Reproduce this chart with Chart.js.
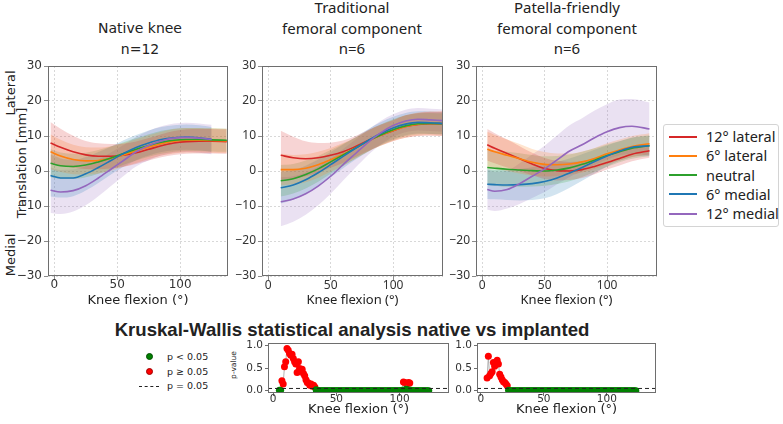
<!DOCTYPE html>
<html lang="en">
<head>
<meta charset="utf-8">
<title>Patellar translation vs knee flexion</title>
<script src="https://cdn.jsdelivr.net/npm/chart.js@4.4.1/dist/chart.umd.min.js"></script>
<style>
    body { margin: 0; background: #fff; }
    #figura { position: relative; width: 783px; height: 424px; overflow: hidden; font-family: 'DejaVu Sans', sans-serif; color: #222; }
    #figura canvas { position: absolute; }
    .titulo { position: absolute; transform: translateX(-50%); text-align: center; white-space: nowrap; line-height: 20.5px; }
    .rotulo-vertical { position: absolute; transform: translate(-50%, -50%) rotate(-90deg); white-space: nowrap; }
    #legenda { position: absolute; left: 663px; top: 124px; width: 116px; height: 103px; border: 1px solid #d4d4d4; border-radius: 3px; box-sizing: border-box; font-family: 'Noto Sans', sans-serif; font-size: 14.5px; }
    .item-legenda { position: absolute; left: 0; height: 19px; line-height: 19px; white-space: nowrap; }
    .item-legenda span.linha { position: absolute; left: 5px; top: 8.5px; width: 28px; height: 2px; }
    .item-legenda span.texto { position: absolute; left: 42px; top: 0; }
    .legenda-p { position: absolute; font-size: 9.5px; line-height: 12px; white-space: nowrap; }
    .ponto { position: absolute; width: 7px; height: 7px; border-radius: 50%; }
</style>
</head>
<body>
<div id="figura">
    <div class="titulo" style="left:140px; top:18px; font-size:14px;">Native knee<br>n=12</div>
    <div class="titulo" style="left:352px; top:-3px; font-family:'Noto Sans'; font-size:15px;">Traditional<br>femoral component<br>n=6</div>
    <div class="titulo" style="left:567px; top:-3px; font-family:'Noto Sans'; font-size:15px;">Patella-friendly<br>femoral component<br>n=6</div>

    <div class="rotulo-vertical" style="left:10px; top:93px; font-size:13px;">Lateral</div>
    <div class="rotulo-vertical" style="left:21px; top:163px; font-size:13px;">Translation [mm]</div>
    <div class="rotulo-vertical" style="left:10px; top:255px; font-size:13px;">Medial</div>

    <canvas id="chart-native" width="233" height="248" style="left:0px; top:60px;"></canvas>
    <canvas id="chart-traditional" width="234" height="248" style="left:214px; top:60px;"></canvas>
    <canvas id="chart-patella" width="234" height="248" style="left:428px; top:60px;"></canvas>

    <div id="legenda"></div>

    <div style="position:absolute; left:352px; top:330px; transform:translate(-50%,-50%); font-family:'Liberation Sans', sans-serif; font-weight:bold; font-size:18.6px; white-space:nowrap;">Kruskal-Wallis statistical analysis native vs implanted</div>

    <div class="ponto" style="left:146px; top:353px; background:#008000; border:0.5px solid #004d00; box-sizing:border-box;"></div>
    <div class="legenda-p" style="left:167px; top:351px;">p &lt; 0.05</div>
    <div class="ponto" style="left:146px; top:368px; background:#ff0000; border:0.5px solid #a00000; box-sizing:border-box;"></div>
    <div class="legenda-p" style="left:167px; top:366px;">p ≥ 0.05</div>
    <div style="position:absolute; left:139px; top:385.5px; width:20px; border-top:1px dashed #222;"></div>
    <div class="legenda-p" style="left:167px; top:380px;">p = 0.05</div>

    <div class="rotulo-vertical" style="left:233px; top:365px; font-size:7.5px;">p-value</div>

    <canvas id="chart-p-traditional" width="215" height="81" style="left:238px; top:336px;"></canvas>
    <canvas id="chart-p-patella" width="213" height="81" style="left:447px; top:336px;"></canvas>
</div>

<script>
// =====================================================
// DADOS DO GRÁFICO
// =====================================================

const seriesLabels = ['12° lateral', '6° lateral', 'neutral', '6° medial', '12° medial'];
const seriesColors = ['#d62728', '#ff7f0e', '#2ca02c', '#1f77b4', '#9467bd'];

const flexionTicks = [0, 50, 100];
const translationTicks = [-30, -20, -10, 0, 10, 20, 30];
const pValueTicks = [0, 0.5, 1];
const pThreshold = 0.05;

// Native knee (n=12)
const nativeAngles = [-3, 5, 15, 25, 35, 45, 55, 65, 75, 85, 95, 105, 115, 125, 137];
const nativeLat12 = [8.0, 6.8, 5.5, 4.6, 4.2, 4.2, 4.5, 5.2, 6.2, 7.2, 8.0, 8.4, 8.5, 8.5, 8.4];
const nativeLat12Sd = [6.0, 5.3, 4.6, 4.0, 3.7, 3.5, 3.3, 3.2, 3.2, 3.3, 3.4, 3.5, 3.5, 3.5, 3.5];
const nativeLat6 = [5.5, 4.3, 3.3, 2.9, 3.0, 3.6, 4.6, 5.7, 6.8, 7.8, 8.5, 8.8, 8.8, 8.7, 8.6];
const nativeLat6Sd = [5.0, 4.6, 4.2, 3.9, 3.7, 3.5, 3.4, 3.4, 3.4, 3.4, 3.5, 3.5, 3.5, 3.5, 3.5];
const nativeNeutral = [2.2, 1.5, 1.3, 1.7, 2.6, 3.7, 5.0, 6.2, 7.3, 8.2, 8.8, 9.0, 9.0, 8.9, 8.8];
const nativeNeutralSd = [4.0, 3.8, 3.6, 3.5, 3.4, 3.3, 3.2, 3.2, 3.2, 3.3, 3.3, 3.3, 3.3, 3.3, 3.3];
const nativeMed6 = [-1.3, -2.0, -2.0, -0.8, 1.0, 3.0, 5.0, 6.7, 8.0, 9.0, 9.5, 9.7, 9.5, 9.0];
const nativeMed6Sd = [6.0, 5.6, 5.2, 4.8, 4.4, 4.0, 3.8, 3.6, 3.6, 3.6, 3.6, 3.6, 3.6, 3.6];
const nativeMed12 = [-5.5, -6.0, -5.6, -4.2, -2.0, 0.5, 3.0, 5.5, 7.3, 8.6, 9.4, 9.6, 9.4, 9.0];
const nativeMed12Sd = [6.5, 6.3, 6.0, 5.6, 5.2, 4.8, 4.4, 4.2, 4.2, 4.2, 4.2, 4.2, 4.2, 4.2];

// Traditional femoral component (n=6)
const tradAngles = [10, 20, 30, 40, 50, 60, 70, 80, 90, 100, 110, 120, 130, 140];
const tradLat12 = [4.5, 3.8, 3.5, 3.8, 4.5, 5.5, 7.0, 8.7, 10.2, 11.5, 12.7, 13.3, 13.5, 13.5];
const tradLat12Sd = [7.0, 6.0, 5.0, 4.2, 3.6, 3.2, 3.0, 3.0, 3.0, 3.0, 3.2, 3.3, 3.4, 3.5];
const tradLat6 = [0.4, 0.4, 0.8, 1.8, 3.2, 4.8, 6.6, 8.5, 10.2, 11.6, 12.7, 13.4, 13.6, 13.6];
const tradLat6Sd = [4.5, 4.2, 4.0, 3.7, 3.4, 3.2, 3.0, 3.0, 3.0, 3.0, 3.2, 3.3, 3.4, 3.5];
const tradNeutral = [-2.8, -2.2, -1.0, 0.6, 2.6, 4.6, 6.6, 8.6, 10.3, 11.8, 12.9, 13.5, 13.6, 13.5];
const tradNeutralSd = [4.5, 4.2, 4.0, 3.7, 3.4, 3.2, 3.0, 3.0, 3.0, 3.0, 3.0, 3.0, 3.0, 3.0];
const tradMed6 = [-4.8, -4.0, -2.5, -0.5, 1.8, 4.2, 6.5, 8.7, 10.7, 12.3, 13.4, 13.9, 13.8, 13.6];
const tradMed6Sd = [4.5, 4.2, 4.0, 3.8, 3.6, 3.4, 3.2, 3.2, 3.2, 3.2, 3.2, 3.2, 3.2, 3.2];
const tradMed12 = [-8.8, -8.0, -6.5, -4.3, -1.5, 1.8, 5.0, 8.2, 10.9, 13.0, 14.3, 14.8, 14.6, 14.4];
const tradMed12Sd = [7.0, 6.5, 6.0, 5.5, 5.0, 4.5, 4.0, 3.6, 3.4, 3.2, 3.2, 3.2, 3.2, 3.2];

// Patella-friendly femoral component (n=6)
const pfAngles = [4, 10, 20, 30, 40, 50, 60, 70, 80, 90, 100, 110, 120, 134];
const pfLat12 = [7.5, 6.5, 5.0, 3.5, 2.0, 0.7, 0.1, 0.0, 0.4, 1.3, 2.4, 3.6, 4.8, 5.8];
const pfLat12Sd = [4.5, 4.3, 4.0, 3.6, 3.2, 3.0, 2.8, 2.6, 2.4, 2.2, 2.0, 2.0, 2.0, 2.0];
const pfLat6 = [6.2, 5.5, 4.5, 3.5, 2.5, 1.9, 1.8, 2.0, 2.6, 3.6, 4.9, 6.0, 7.0, 7.8];
const pfLat6Sd = [5.0, 4.8, 4.5, 4.2, 3.8, 3.5, 3.2, 3.0, 3.0, 3.0, 3.0, 3.0, 3.0, 3.0];
const pfNeutral = [1.0, 0.8, 0.5, 0.3, 0.1, 0.0, 0.3, 0.9, 1.9, 3.1, 4.4, 5.5, 6.5, 7.2];
const pfNeutralSd = [5.0, 5.0, 5.0, 4.8, 4.5, 4.2, 4.0, 3.8, 3.6, 3.4, 3.2, 3.0, 3.0, 3.0];
const pfMed6 = [-3.8, -3.9, -4.0, -3.9, -3.6, -3.0, -2.0, -0.6, 1.0, 2.7, 4.3, 5.7, 6.8, 7.2];
const pfMed6Sd = [4.2, 4.2, 4.3, 4.5, 4.7, 4.8, 4.6, 4.2, 3.8, 3.4, 3.0, 2.8, 2.8, 2.8];
const pfMed12 = [-5.3, -5.8, -5.3, -3.6, -1.5, 0.6, 3.2, 5.7, 7.5, 9.5, 11.2, 12.4, 12.8, 12.0];
const pfMed12Sd = [5.8, 5.6, 5.4, 5.8, 6.2, 6.6, 7.0, 7.4, 7.6, 7.8, 7.9, 8.0, 7.8, 7.6];

// Kruskal-Wallis p-values (native vs implanted)
const pAngles = [
    5, 6, 7, 8, 9, 10, 11, 12, 13, 14,
    15, 16, 17, 18, 19, 20, 21, 22, 23, 24,
    25, 26, 27, 28, 29, 30, 31, 32, 33, 34,
    35, 36, 37, 38, 39, 40, 41, 42, 43, 44,
    45, 46, 47, 48, 49, 50, 51, 52, 53, 54,
    55, 56, 57, 58, 59, 60, 61, 62, 63, 64,
    65, 66, 67, 68, 69, 70, 71, 72, 73, 74,
    75, 76, 77, 78, 79, 80, 81, 82, 83, 84,
    85, 86, 87, 88, 89, 90, 91, 92, 93, 94,
    95, 96, 97, 98, 99, 100, 101, 102, 103, 104,
    105, 106, 107, 108, 109, 110, 111, 112, 113, 114,
    115, 116, 117, 118, 119, 120, 121, 122, 123
];
const pNativeVsTrad = [
    0.01, 0.01, 0.22, 0.15, 0.53, 0.64, 0.93, 0.89, 0.82, 0.78,
    0.80, 0.71, 0.64, 0.59, 0.40, 0.64, 0.49, 0.46, 0.47, 0.38,
    0.33, 0.24, 0.18, 0.17, 0.12, 0.15, 0.10, 0.12, 0.08, 0.02,
    0.01, 0, 0, 0, 0, 0, 0, 0, 0, 0,
    0, 0, 0, 0, 0, 0, 0, 0, 0, 0,
    0, 0, 0, 0, 0, 0, 0, 0, 0, 0,
    0, 0, 0, 0, 0, 0, 0, 0, 0, 0,
    0, 0, 0, 0, 0, 0, 0, 0, 0, 0,
    0, 0, 0, 0, 0, 0, 0, 0, 0, 0,
    0, 0, 0, 0, 0, 0, 0, 0.01, 0.19, 0.18,
    0.03, 0.04, 0.18, 0.17, 0.01, 0, 0, 0, 0, 0,
    0, 0, 0, 0, 0, 0, 0, 0, 0
];
const pNativeVsPf = [
    0.28, 0.76, 0.33, 0.38, 0.42, 0.62, 0.54, 0.58, 0.67, 0.59,
    0.36, 0.30, 0.24, 0.20, 0.18, 0.15, 0.11, 0.01, 0, 0,
    0, 0, 0, 0, 0, 0, 0, 0, 0, 0,
    0, 0, 0, 0, 0, 0, 0, 0, 0, 0,
    0, 0, 0, 0, 0, 0, 0, 0, 0, 0,
    0, 0, 0, 0, 0, 0, 0, 0, 0, 0,
    0, 0, 0, 0, 0, 0, 0, 0, 0, 0,
    0, 0, 0, 0, 0, 0, 0, 0, 0, 0,
    0, 0, 0, 0, 0, 0, 0, 0, 0, 0,
    0, 0, 0, 0, 0, 0, 0, 0, 0, 0,
    0, 0, 0, 0, 0, 0, 0, 0, 0, 0,
    0, 0, 0, 0, 0, 0, 0, 0, 0
];

// =====================================================
// UTILITÁRIOS
// =====================================================

function paraRgba(hex, alfa) {
    const r = parseInt(hex.slice(1, 3), 16);
    const g = parseInt(hex.slice(3, 5), 16);
    const b = parseInt(hex.slice(5, 7), 16);
    return `rgba(${r}, ${g}, ${b}, ${alfa})`;
}

function formatarMenos(valor) {
    return String(valor).replace('-', '\u2212');
}

// Moldura em volta da área do gráfico (como os "spines" do matplotlib)
const molduraPlugin = {
    id: 'moldura',
    afterDraw(chart) {
        const { ctx, chartArea: a } = chart;
        ctx.save();
        ctx.strokeStyle = '#6e6e6e';
        ctx.lineWidth = 1;
        ctx.strokeRect(Math.round(a.left) + 0.5, Math.round(a.top) + 0.5,
            Math.round(a.right - a.left) - 1, Math.round(a.bottom - a.top) - 1);
        ctx.restore();
    }
};

function semPadding(scale) {
    scale.paddingTop = 0;
    scale.paddingBottom = 0;
    scale.paddingLeft = 0;
    scale.paddingRight = 0;
}

// =====================================================
// PAINÉIS DE TRANSLAÇÃO
// =====================================================

function criarPainelTranslacao(id, angulos, medias, desvios, xMin, xMax, fonte) {
    const ctx = document.getElementById(id);
    if (!ctx) return;

    const datasets = [];
    medias.forEach((media, i) => {
        const cor = seriesColors[i];
        const sd = desvios[i];
        datasets.push({
            data: media.map((v, k) => ({ x: angulos[k], y: v + sd[k] })),
            borderWidth: 0,
            borderColor: 'transparent',
            pointRadius: 0,
            fill: '+1',
            backgroundColor: paraRgba(cor, 0.2),
            cubicInterpolationMode: 'monotone',
            order: 10
        });
        datasets.push({
            data: media.map((v, k) => ({ x: angulos[k], y: v - sd[k] })),
            borderWidth: 0,
            borderColor: 'transparent',
            pointRadius: 0,
            fill: false,
            cubicInterpolationMode: 'monotone',
            order: 10
        });
        datasets.push({
            label: seriesLabels[i],
            data: media.map((v, k) => ({ x: angulos[k], y: v })),
            borderColor: cor,
            borderWidth: 1.6,
            pointRadius: 0,
            fill: false,
            cubicInterpolationMode: 'monotone',
            order: 5 - i
        });
    });

    const grade = { color: '#cfcfcf', lineWidth: 0.8, tickColor: '#6e6e6e', tickLength: 4 };
    const borda = { display: false, dash: [2, 2] };

    new Chart(ctx, {
        type: 'line',
        data: { datasets },
        options: {
            responsive: false,
            animation: false,
            devicePixelRatio: 1,
            layout: { padding: { top: 6, right: 5, left: 0, bottom: 0 } },
            plugins: {
                legend: { display: false },
                tooltip: { enabled: false },
                filler: { drawTime: 'beforeDatasetsDraw' }
            },
            scales: {
                x: {
                    type: 'linear',
                    min: xMin,
                    max: xMax,
                    afterBuildTicks: s => { s.ticks = flexionTicks.map(v => ({ value: v })); },
                    afterFit: s => { s.height = 32; semPadding(s); },
                    grid: grade,
                    border: borda,
                    ticks: { color: '#333', font: { family: fonte, size: 12 }, padding: -2, maxRotation: 0 },
                    title: { display: true, text: 'Knee flexion (°)', color: '#222', font: { family: fonte, size: 13 }, padding: 0 }
                },
                y: {
                    type: 'linear',
                    min: -30,
                    max: 30,
                    afterBuildTicks: s => { s.ticks = translationTicks.map(v => ({ value: v })); },
                    afterFit: s => { s.width = 48; semPadding(s); },
                    grid: grade,
                    border: borda,
                    ticks: { color: '#333', font: { family: fonte, size: 12 }, padding: 2, callback: v => formatarMenos(v) }
                }
            }
        },
        plugins: [molduraPlugin]
    });
}

// =====================================================
// PAINÉIS DE P-VALOR
// =====================================================

function criarPainelPValor(id, angulos, valores, xMin, xMax) {
    const ctx = document.getElementById(id);
    if (!ctx) return;

    const cores = valores.map(v => (v >= pThreshold ? '#ff0000' : '#008000'));
    const grade = { drawOnChartArea: false, tickColor: '#6e6e6e', tickLength: 3 };
    const borda = { display: false };

    new Chart(ctx, {
        type: 'line',
        data: {
            datasets: [
                {
                    data: [{ x: xMin, y: pThreshold }, { x: xMax, y: pThreshold }],
                    borderColor: '#222',
                    borderWidth: 1,
                    borderDash: [4, 3],
                    pointRadius: 0,
                    order: 0
                },
                {
                    data: valores.map((v, k) => ({ x: angulos[k], y: v })),
                    borderColor: '#a0a0a0',
                    borderWidth: 0.8,
                    pointRadius: 3.5,
                    pointBackgroundColor: cores,
                    pointBorderColor: cores,
                    pointBorderWidth: 0,
                    order: 1
                }
            ]
        },
        options: {
            responsive: false,
            animation: false,
            devicePixelRatio: 1,
            layout: { padding: { top: 7, right: 4, left: 0, bottom: 0 } },
            plugins: { legend: { display: false }, tooltip: { enabled: false } },
            scales: {
                x: {
                    type: 'linear',
                    min: xMin,
                    max: xMax,
                    afterBuildTicks: s => { s.ticks = flexionTicks.map(v => ({ value: v })); },
                    afterFit: s => { s.height = 24; semPadding(s); },
                    grid: grade,
                    border: borda,
                    ticks: { color: '#333', font: { family: 'DejaVu Sans', size: 10.5 }, padding: -3, maxRotation: 0 },
                    title: { display: true, text: 'Knee flexion (°)', color: '#222', font: { family: 'DejaVu Sans', size: 13 }, padding: 0 }
                },
                y: {
                    type: 'linear',
                    min: -0.05,
                    max: 1.05,
                    afterBuildTicks: s => { s.ticks = pValueTicks.map(v => ({ value: v })); },
                    afterFit: s => { s.width = 30; semPadding(s); },
                    grid: grade,
                    border: borda,
                    ticks: { color: '#333', font: { family: 'DejaVu Sans', size: 10.5 }, padding: 2, callback: v => Number(v).toFixed(1) }
                }
            }
        },
        plugins: [molduraPlugin]
    });
}

// =====================================================
// LEGENDA
// =====================================================

function montarLegenda() {
    const container = document.getElementById('legenda');
    if (!container) return;
    container.innerHTML = seriesLabels.map((rotulo, i) => `
        <div class="item-legenda" style="top:${2 + i * 19.3}px;">
            <span class="linha" style="background:${seriesColors[i]};"></span>
            <span class="texto">${rotulo}</span>
        </div>
    `).join('');
}

// =====================================================
// INICIALIZAÇÃO
// =====================================================

criarPainelTranslacao('chart-native', nativeAngles,
    [nativeLat12, nativeLat6, nativeNeutral, nativeMed6, nativeMed12],
    [nativeLat12Sd, nativeLat6Sd, nativeNeutralSd, nativeMed6Sd, nativeMed12Sd],
    -5, 138, 'DejaVu Sans');

criarPainelTranslacao('chart-traditional', tradAngles,
    [tradLat12, tradLat6, tradNeutral, tradMed6, tradMed12],
    [tradLat12Sd, tradLat6Sd, tradNeutralSd, tradMed6Sd, tradMed12Sd],
    -5, 140, 'Noto Sans');

criarPainelTranslacao('chart-patella', pfAngles,
    [pfLat12, pfLat6, pfNeutral, pfMed6, pfMed12],
    [pfLat12Sd, pfLat6Sd, pfNeutralSd, pfMed6Sd, pfMed12Sd],
    -5, 140, 'Noto Sans');

criarPainelPValor('chart-p-traditional', pAngles, pNativeVsTrad, -4, 139);
criarPainelPValor('chart-p-patella', pAngles, pNativeVsPf, -3, 139);

montarLegenda();
</script>
</body>
</html>
